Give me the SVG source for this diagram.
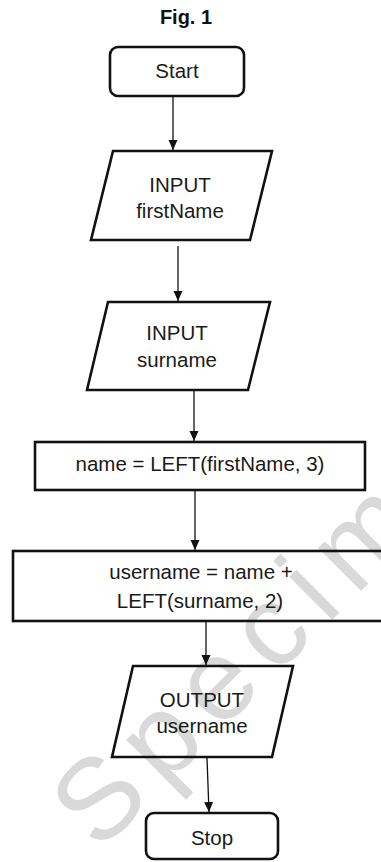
<svg xmlns="http://www.w3.org/2000/svg" width="381" height="862" viewBox="0 0 381 862">
<style>
.box{fill:none;stroke:#111;stroke-width:2.6;stroke-linejoin:miter}
.t{font-family:"Liberation Sans",Arial,sans-serif;font-size:20.5px;fill:#1a1a1a;text-anchor:middle}
.title{font-family:"Liberation Sans",Arial,sans-serif;font-size:20px;font-weight:bold;fill:#111;text-anchor:middle}
.wm{font-family:"Liberation Sans",Arial,sans-serif;font-size:115px;fill:#d9d9d9}
.c{stroke:#111;stroke-width:1.3;fill:none;marker-end:url(#ah)}
</style>
<defs>
<marker id="ah" markerUnits="userSpaceOnUse" markerWidth="10" markerHeight="10" refX="10" refY="4.5" orient="auto">
<path d="M0,0 L10,4.5 L0,9 z" fill="#111"/>
</marker>
</defs>
<rect width="381" height="862" fill="#fff"/>
<text class="wm" transform="translate(99,853) rotate(-45)" letter-spacing="15">Specimen</text>
<text class="title" x="186" y="24">Fig. 1</text>
<g id="start">
<rect class="box" x="110" y="47" width="134" height="49" rx="8"/>
<text class="t" x="177" y="78">Start</text>
</g>
<g id="input1">
<polygon class="box" points="113,151 272,151 250,240 91,240"/>
<text class="t" x="180" y="192">INPUT</text>
<text class="t" x="180" y="218">firstName</text>
</g>
<g id="input2">
<polygon class="box" points="108,302 270,302 248,390 87,390"/>
<text class="t" x="177" y="340">INPUT</text>
<text class="t" x="177" y="367">surname</text>
</g>
<g id="process1">
<rect class="box" x="35" y="442" width="330" height="48"/>
<text class="t" x="200" y="471">name = LEFT(firstName, 3)</text>
</g>
<g id="process2">
<rect class="box" x="13" y="551" width="375" height="70"/>
<text class="t" x="201" y="579">username = name +</text>
<text class="t" x="200" y="608">LEFT(surname, 2)</text>
</g>
<g id="output">
<polygon class="box" points="133,666 293,666 272,757 112,757"/>
<text class="t" x="202" y="707">OUTPUT</text>
<text class="t" x="202" y="733">username</text>
</g>
<g id="stop">
<rect class="box" x="146" y="813" width="132" height="46" rx="8"/>
<text class="t" x="212" y="845">Stop</text>
</g>
<g id="connectors">
<line class="c" x1="173" y1="97" x2="173" y2="150"/>
<line class="c" x1="178" y1="246" x2="178" y2="301"/>
<line class="c" x1="194" y1="391" x2="194" y2="441"/>
<line class="c" x1="195" y1="491" x2="195" y2="550"/>
<line class="c" x1="206" y1="622" x2="206" y2="665"/>
<line class="c" x1="207" y1="758" x2="209" y2="812"/>
</g>
</svg>
